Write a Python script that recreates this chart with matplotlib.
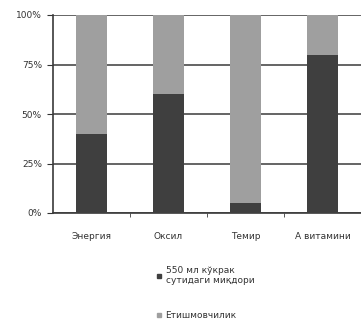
import numpy as np
import matplotlib.pyplot as plt
from matplotlib.ticker import PercentFormatter
from matplotlib.lines import Line2D

# ======== data ========
categories = ['Энергия', 'Оксил', 'Темир', 'А витамини']
milk_share = [40, 60, 5, 80]        # 550 мл кўкрак сутидаги миқдори
deficit_share = [60, 40, 95, 20]    # Етишмовчилик
series_names = ['550 мл кўкрак\nсутидаги миқдори', 'Етишмовчилик']
y_ticks = [0, 25, 50, 75, 100]

dark = '#3f3f3f'
light = '#9f9f9f'
ink = '#333333'

fig = plt.figure(figsize=(3.61, 3.27), dpi=100)
ax = fig.add_axes([53 / 361, 114 / 327, 308 / 361, 198 / 327])

x = np.arange(len(categories))
ax.bar(x, milk_share, width=0.39, color=dark, zorder=3)
ax.bar(x, deficit_share, width=0.39, bottom=milk_share, color=light, zorder=3)

ax.set_xlim(-0.5, len(categories) - 0.5)
ax.set_ylim(0, 100)
ax.set_yticks(y_ticks)
ax.yaxis.set_major_formatter(PercentFormatter(decimals=0))
ax.set_xticks(x)
ax.set_xticklabels(categories)
ax.set_xticks(np.arange(len(categories)) + 0.5, minor=True)

ax.grid(axis='y', color='#4a4a4a', linewidth=1.2, zorder=1)
for s in ['top', 'right']:
    ax.spines[s].set_visible(False)
for s in ['left', 'bottom']:
    ax.spines[s].set_color('#3a3a3a')
    ax.spines[s].set_linewidth(1.2)

ax.tick_params(axis='y', labelsize=6.5, colors=ink, length=4, pad=4)
ax.tick_params(axis='x', which='major', labelsize=6.5, colors=ink, length=0, pad=14)
ax.tick_params(axis='x', which='minor', length=3, color='#3a3a3a')

handles = [Line2D([], [], marker='s', linestyle='none', markersize=3.5, color=c)
           for c in (dark, light)]
leg = fig.legend(handles, series_names, loc='upper left',
                 bbox_to_anchor=(152 / 361, 1 - 262 / 327), frameon=False,
                 fontsize=6.5, handletextpad=0.3, labelspacing=2.9,
                 handlelength=0.8, borderaxespad=0)
for t in leg.get_texts():
    t.set_color(ink)

plt.savefig('out.png', dpi=100)
